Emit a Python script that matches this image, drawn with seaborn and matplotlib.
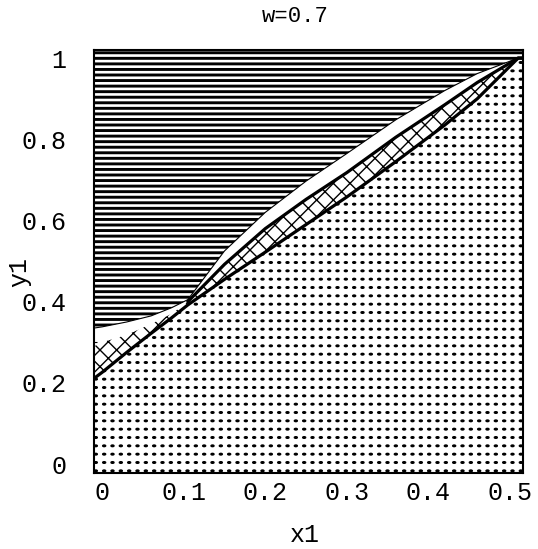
import matplotlib
matplotlib.use("Agg")
import matplotlib.pyplot as plt
import matplotlib.hatch as mhatch
from matplotlib.path import Path
import numpy as np
import pandas as pd
import seaborn as sns
from matplotlib.ticker import MultipleLocator

# ---- data ----
title = "w=0.7"
x_label = "x1"
y_label = "y1"
x_ticks = [0, 0.1, 0.2, 0.3, 0.4, 0.5]
x_tick_labels = ["0", "0.1", "0.2", "0.3", "0.4", "0.5"]
y_ticks = [0, 0.2, 0.4, 0.6, 0.8, 1.0]
y_tick_labels = ["0", "0.2", "0.4", "0.6", "0.8", "1"]

x1 =     [-0.01, 0.0,   0.03,  0.06,  0.085, 0.105, 0.15,  0.2,   0.25,  0.3,   0.36,  0.42,  0.46,  0.51,  0.516]
lower =  [0.211, 0.226, 0.275, 0.322, 0.360, 0.392, 0.455, 0.522, 0.590, 0.658, 0.745, 0.835, 0.900, 1.000, 1.0]
middle = [0.290, 0.300, 0.318, 0.345, 0.370, 0.400, 0.492, 0.580, 0.652, 0.718, 0.805, 0.885, 0.940, 1.000, 1.0]
upper =  [0.335, 0.338, 0.350, 0.365, 0.385, 0.405, 0.525, 0.620, 0.697, 0.765, 0.848, 0.920, 0.962, 1.000, 1.0]
pinch_x = 0.105

df = pd.DataFrame({"x1": x1, "lower": lower, "middle": middle, "upper": upper})


# ---- square-grid dot hatch (style only), replaces the staggered '.' pattern ----
class GridDots(mhatch.HatchPatternBase):
    def __init__(self, hatch, density):
        self.num_rows = hatch.count(".") * density
        circ = Path.unit_circle()
        self.shape_vertices = circ.vertices
        self.shape_codes = circ.codes
        self.num_vertices = self.num_rows * self.num_rows * len(self.shape_vertices)

    def set_vertices_and_codes(self, vertices, codes):
        n = self.num_rows
        off = 1.0 / n
        sv = self.shape_vertices * np.array([0.17 * off, 0.09 * off])
        vparts, cparts = [], []
        for r in range(n):
            for c in range(n):
                vparts.append(sv + [(c + 0.5) * off, (r + 0.5) * off])
                cparts.append(self.shape_codes)
        np.concatenate(vparts, out=vertices)
        np.concatenate(cparts, out=codes)


mhatch._hatch_types = [GridDots if t is mhatch.SmallFilledCircles else t
                       for t in mhatch._hatch_types]

# ---- style ----
sns.set_theme(style="ticks")
plt.rcParams["font.family"] = ["Liberation Mono", "DejaVu Sans"]
plt.rcParams["text.color"] = "black"
plt.rcParams["axes.labelcolor"] = "black"
plt.rcParams["xtick.color"] = "black"
plt.rcParams["ytick.color"] = "black"

fig = plt.figure(figsize=(5.38, 5.49), dpi=100)
ax = fig.add_axes([94 / 538, 76 / 549, 429 / 538, 423 / 549])
ax.set_xlim(-0.01, 0.516)
ax.set_ylim(-0.022, 1.02)
ybot, ytop = ax.get_ylim()


def region(y_a, y_b, hatch, hlw):
    with plt.rc_context({"hatch.linewidth": hlw}):
        coll = ax.fill_between(df["x1"], y_a, y_b, facecolor="white",
                               edgecolor="black", hatch=hatch, linewidth=0, zorder=1)
    if hasattr(coll, "set_hatch_linewidth"):
        coll.set_hatch_linewidth(hlw)
    return coll


region(ybot, df["lower"], "..", 1.1)                # dotted region
region(df["lower"], df["middle"], "xx", 1.0)        # cross-hatched band
region(df["upper"], ytop, "---", 2.1)               # horizontal-line region

# boundary curves
sns.lineplot(data=df, x="x1", y="lower", ax=ax, color="black", linewidth=2.3,
             estimator=None, sort=False, zorder=3)
right = df[df["x1"] >= pinch_x]
sns.lineplot(data=right, x="x1", y="middle", ax=ax, color="black", linewidth=2.3,
             estimator=None, sort=False, zorder=3)
sns.lineplot(data=df, x="x1", y="upper", ax=ax, color="black", linewidth=0.8,
             estimator=None, sort=False, zorder=3)

# ---- axes decoration ----
ax.set_xticks(x_ticks)
ax.set_xticklabels(x_tick_labels)
ax.set_yticks(y_ticks)
ax.set_yticklabels(y_tick_labels)
ax.xaxis.set_minor_locator(MultipleLocator(0.02))
ax.yaxis.set_minor_locator(MultipleLocator(0.05))
ax.tick_params(which="major", direction="in", length=5, width=1.2,
               top=True, right=True, labelsize=18)
ax.tick_params(which="minor", direction="in", length=2.5, width=0.8,
               top=True, right=True)
ax.tick_params(axis="x", which="major", pad=6)
ax.tick_params(axis="y", which="major", pad=20)
for s in ax.spines.values():
    s.set_color("black")
    s.set_linewidth(1.5)
    s.set_zorder(4)

ax.set_xlabel(x_label, fontsize=18)
ax.set_ylabel(y_label, fontsize=18)
ax.xaxis.set_label_coords((305 - 94) / 429, (473 - 523) / 423)
ax.yaxis.set_label_coords((31 - 94) / 429, (473 - 272) / 423)
ax.set_title(title, fontsize=16, x=(295 - 94) / 429, pad=20)

fig.savefig("out.png", dpi=100, facecolor="white")
